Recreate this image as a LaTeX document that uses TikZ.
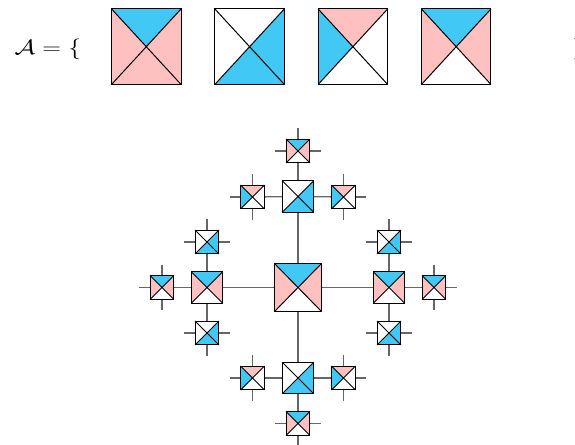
\documentclass[tikz,border=0pt]{standalone}
\usepackage{amsmath,amssymb,graphicx}

\definecolor{tilepink}{RGB}{255,192,192}
\definecolor{tileblue}{RGB}{66,200,244}

\tikzset{
  tileline/.style={draw=black, line width=1pt},
  link/.style={draw=black!60, line width=1.3pt},
  settile/.style={inner sep=0pt, minimum width=69pt, minimum height=75pt},
  bigtile/.style={inner sep=0pt, minimum width=46pt, minimum height=47pt},
  midtile/.style={inner sep=0pt, minimum size=31pt},
  smalltile/.style={inner sep=0pt, minimum size=23.5pt},
}

% wang tile: name, north, east, south, west
\newcommand{\wang}[5]{%
  \fill[#2] (#1.center) -- (#1.north west) -- (#1.north east) -- cycle;
  \fill[#3] (#1.center) -- (#1.north east) -- (#1.south east) -- cycle;
  \fill[#4] (#1.center) -- (#1.south east) -- (#1.south west) -- cycle;
  \fill[#5] (#1.center) -- (#1.south west) -- (#1.north west) -- cycle;
  \draw[tileline] (#1.north west) -- (#1.south east) (#1.north east) -- (#1.south west);
  \draw[tileline] (#1.north west) rectangle (#1.south east);
}
\newcommand{\tileone}[1]{\wang{#1}{tileblue}{tilepink}{tilepink}{tilepink}}
\newcommand{\tiletwo}[1]{\wang{#1}{white}{tileblue}{tileblue}{white}}
\newcommand{\tilethree}[1]{\wang{#1}{tilepink}{white}{white}{tileblue}}
\newcommand{\tilefour}[1]{\wang{#1}{tileblue}{tilepink}{white}{tilepink}}

\begin{document}
\begin{tikzpicture}[x=1pt, y=-1pt]
    \useasboundingbox (0,0) rectangle (575,444);

    % the tile set
    \node[anchor=base west] (setopen) at (11,54.3)
        {\fontsize{21}{25}\selectfont\scalebox{1.25}[1]{$\mathcal{A}=\{$}};
    \node[anchor=base west] (setclose) at (568.5,54.3)
        {\fontsize{21}{25}\selectfont\scalebox{1.25}[1]{$\}$}};
    \foreach \i in {1,...,4} {
        \node[settile] (a\i) at (43+103.3*\i,46.7) {};
    }
    \tileone{a1}
    \tiletwo{a2}
    \tilethree{a3}
    \tilefour{a4}

    % the tiling tree
    \node[bigtile] (c) at (298,287.5) {};
    \node[midtile] (u) at (298,196.5) {};
    \node[midtile] (d) at (298,378) {};
    \node[midtile] (l) at (207,287.5) {};
    \node[midtile] (r) at (389,287.5) {};
    \node[smalltile] (uu) at (298,151) {};
    \node[smalltile] (ul) at (252.5,197) {};
    \node[smalltile] (ur) at (343.5,197) {};
    \node[smalltile] (dd) at (298,423.5) {};
    \node[smalltile] (dl) at (252.5,378) {};
    \node[smalltile] (dr) at (343.5,378) {};
    \node[smalltile] (ll) at (162,287.5) {};
    \node[smalltile] (lu) at (207,242) {};
    \node[smalltile] (ld) at (207,333) {};
    \node[smalltile] (rr) at (434,287.5) {};
    \node[smalltile] (ru) at (389,242) {};
    \node[smalltile] (rd) at (389,333) {};

    \foreach \a/\b in {c/u, c/d, c/l, c/r, u/uu, u/ul, u/ur, d/dd, d/dl, d/dr,
                       l/ll, l/lu, l/ld, r/rr, r/ru, r/rd} {
        \draw[link] (\a) -- (\b);
    }
    \foreach \t/\s/\dx/\dy in {uu/north/0/-11, uu/west/-11/0, uu/east/11/0,
                               ul/north/0/-11, ul/south/0/11, ul/west/-11/0,
                               ur/north/0/-11, ur/south/0/11, ur/east/11/0,
                               dd/south/0/11, dd/west/-11/0, dd/east/11/0,
                               dl/north/0/-11, dl/south/0/11, dl/west/-11/0,
                               dr/north/0/-11, dr/south/0/11, dr/east/11/0,
                               ll/north/0/-11, ll/south/0/11, ll/west/-11/0,
                               lu/north/0/-11, lu/west/-11/0, lu/east/11/0,
                               ld/south/0/11, ld/west/-11/0, ld/east/11/0,
                               rr/north/0/-11, rr/south/0/11, rr/east/11/0,
                               ru/north/0/-11, ru/west/-11/0, ru/east/11/0,
                               rd/south/0/11, rd/west/-11/0, rd/east/11/0} {
        \draw[link] (\t.\s) -- ++(\dx,\dy);
    }

    \tilefour{c}
    \tiletwo{u}
    \tiletwo{d}
    \tilefour{l}
    \tilefour{r}
    \tilefour{uu}
    \tilethree{ul}
    \tilethree{ur}
    \tilefour{dd}
    \tilethree{dl}
    \tilethree{dr}
    \tilefour{ll}
    \tiletwo{lu}
    \tiletwo{ld}
    \tilefour{rr}
    \tiletwo{ru}
    \tiletwo{rd}
\end{tikzpicture}
\end{document}
